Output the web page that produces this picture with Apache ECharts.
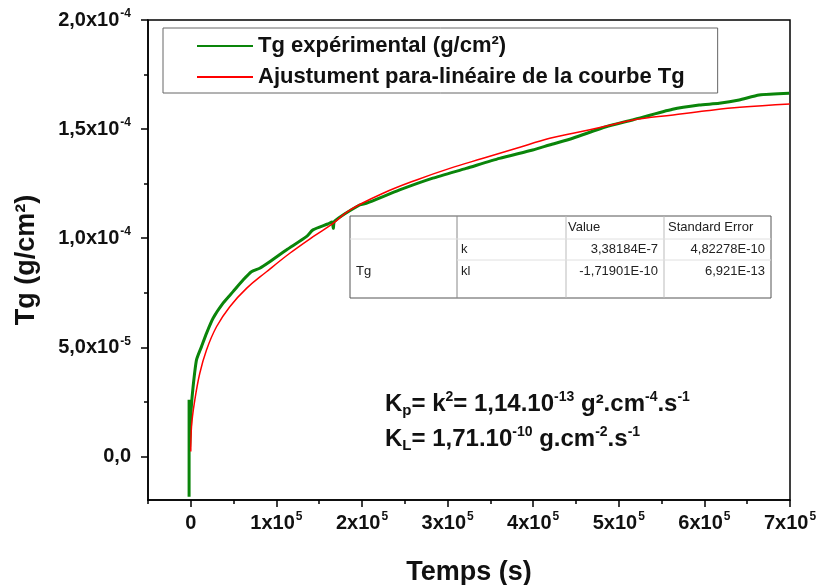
<!DOCTYPE html>
<html>
<head>
<meta charset="utf-8">
<script src="https://cdn.jsdelivr.net/npm/echarts@6/dist/echarts.min.js"></script>
<style>html,body{margin:0;padding:0;background:#fff}#c{width:821px;height:585px}</style>
</head>
<body>
<div id="c"></div>
<script>
// ---- data ----
const expX = [-2000, -2000, -1500, -500, 500, 2680, 6650, 12490, 18320, 26020, 37690, 49360, 61030, 70830, 80510, 92180, 111670, 135000, 142700, 160000, 165000, 166500, 168000, 197200, 205000, 243900, 282700, 321700, 360600, 399400, 418900, 446100, 485100, 516100, 562800, 593900, 617300, 640600, 664000, 699000];
const expY = [-1.85e-5, 2.6e-5, 0.3e-5, 1.2e-5, 2.2e-5, 3.19e-5, 4.42e-5, 5.03e-5, 5.64e-5, 6.33e-5, 7.02e-5, 7.55e-5, 8.08e-5, 8.46e-5, 8.62e-5, 8.92e-5, 9.46e-5, 10.07e-5, 10.38e-5, 10.65e-5, 10.74e-5, 10.45e-5, 10.78e-5, 11.52e-5, 11.60e-5, 12.21e-5, 12.75e-5, 13.20e-5, 13.66e-5, 14.04e-5, 14.27e-5, 14.58e-5, 15.11e-5, 15.42e-5, 15.91e-5, 16.10e-5, 16.18e-5, 16.33e-5, 16.56e-5, 16.64e-5];
const fitX = [0, 820, 4670, 10500, 18340, 30020, 45560, 65070, 88430, 115650, 142870, 166240, 185750, 224650, 263670, 302570, 341470, 380490, 419390, 446610, 485630, 516710, 563440, 602450, 641360, 699770];
const fitY = [0.22e-5, 1.36e-5, 2.58e-5, 3.81e-5, 4.88e-5, 5.94e-5, 6.86e-5, 7.70e-5, 8.46e-5, 9.31e-5, 10.07e-5, 10.68e-5, 11.29e-5, 12.06e-5, 12.67e-5, 13.20e-5, 13.66e-5, 14.12e-5, 14.58e-5, 14.81e-5, 15.14e-5, 15.42e-5, 15.65e-5, 15.84e-5, 16.00e-5, 16.15e-5];
const seriesNames = ['Tg expérimental (g/cm²)', 'Ajustument para-linéaire de la courbe Tg'];

const xTickValues = [0, 1e5, 2e5, 3e5, 4e5, 5e5, 6e5, 7e5];
const xTickLabels = [['0', ''], ['1x10', '5'], ['2x10', '5'], ['3x10', '5'], ['4x10', '5'], ['5x10', '5'], ['6x10', '5'], ['7x10', '5']];
const xMinorTicks = [-5e4, 5e4, 1.5e5, 2.5e5, 3.5e5, 4.5e5, 5.5e5, 6.5e5];
const yTickValues = [0, 5e-5, 1e-4, 1.5e-4, 2e-4];
const yTickLabels = [['0,0', ''], ['5,0x10', '-5'], ['1,0x10', '-4'], ['1,5x10', '-4'], ['2,0x10', '-4']];
const yMinorTicks = [2.5e-5, 7.5e-5, 1.25e-4, 1.75e-4];

const tableRows = [
  ['', '', 'Value', 'Standard Error'],
  ['', 'k', '3,38184E-7', '4,82278E-10'],
  ['Tg', 'kl', '-1,71901E-10', '6,921E-13']
];

// ---- chart ----
const FONT = "'Liberation Sans', Arial, sans-serif";
const pairs = (xs, ys) => xs.map((x, i) => [x, ys[i]]);
function nearestIdx(arr, v) {
  let best = 0, bd = Infinity;
  arr.forEach((a, i) => { const d = Math.abs(a - v); if (d < bd) { bd = d; best = i; } });
  return best;
}
function richLabel(lbl) {
  return lbl[1] ? '{b|' + lbl[0] + '}{s|' + lbl[1] + '}' : '{b|' + lbl[0] + '}';
}
const labelRich = {
  b: { fontFamily: FONT, fontWeight: 'bold', fontSize: 20, color: '#111', lineHeight: 24 },
  s: { fontFamily: FONT, fontWeight: 'bold', fontSize: 12, color: '#111', verticalAlign: 'top', lineHeight: 24, padding: [0, 0, 0, 1] }
};

const chart = echarts.init(document.getElementById('c'), null, { renderer: 'canvas' });

// table graphic
const tblX = [350, 457, 566, 664, 771];
const tblY = [216, 239, 260, 283, 298];
const tbl = [];
tbl.push({ type: 'rect', shape: { x: tblX[0], y: tblY[0], width: tblX[4] - tblX[0], height: tblY[4] - tblY[0] }, style: { fill: '#fff', stroke: '#555', lineWidth: 1 } });
[1, 2, 3].forEach(i => tbl.push({ type: 'line', shape: { x1: tblX[i], y1: tblY[0], x2: tblX[i], y2: tblY[4] }, style: { stroke: i === 1 ? '#888' : '#bbb', lineWidth: 1 } }));
tbl.push({ type: 'line', shape: { x1: tblX[0], y1: tblY[1], x2: tblX[4], y2: tblY[1] }, style: { stroke: '#e0e0e0', lineWidth: 1 } });
tbl.push({ type: 'line', shape: { x1: tblX[1], y1: tblY[2], x2: tblX[4], y2: tblY[2] }, style: { stroke: '#e0e0e0', lineWidth: 1 } });
const cellStyle = { fontFamily: FONT, fontSize: 13, fill: '#222' };
tbl.push({ type: 'text', x: tblX[2] + 2, y: 227, style: Object.assign({ text: tableRows[0][2], verticalAlign: 'middle' }, cellStyle) });
tbl.push({ type: 'text', x: tblX[3] + 4, y: 227, style: Object.assign({ text: tableRows[0][3], verticalAlign: 'middle' }, cellStyle) });
tbl.push({ type: 'text', x: tblX[1] + 4, y: 249, style: Object.assign({ text: tableRows[1][1], verticalAlign: 'middle' }, cellStyle) });
tbl.push({ type: 'text', x: tblX[3] - 6, y: 249, style: Object.assign({ text: tableRows[1][2], verticalAlign: 'middle', align: 'right' }, cellStyle) });
tbl.push({ type: 'text', x: tblX[4] - 6, y: 249, style: Object.assign({ text: tableRows[1][3], verticalAlign: 'middle', align: 'right' }, cellStyle) });
tbl.push({ type: 'text', x: tblX[0] + 6, y: 271, style: Object.assign({ text: tableRows[2][0], verticalAlign: 'middle' }, cellStyle) });
tbl.push({ type: 'text', x: tblX[1] + 4, y: 271, style: Object.assign({ text: tableRows[2][1], verticalAlign: 'middle' }, cellStyle) });
tbl.push({ type: 'text', x: tblX[3] - 6, y: 271, style: Object.assign({ text: tableRows[2][2], verticalAlign: 'middle', align: 'right' }, cellStyle) });
tbl.push({ type: 'text', x: tblX[4] - 6, y: 271, style: Object.assign({ text: tableRows[2][3], verticalAlign: 'middle', align: 'right' }, cellStyle) });

const annRich = {
  b: { fontFamily: FONT, fontWeight: 'bold', fontSize: 24, fill: '#111', lineHeight: 28 },
  sup: { fontFamily: FONT, fontWeight: 'bold', fontSize: 14, fill: '#111', verticalAlign: 'top', lineHeight: 28 },
  sub: { fontFamily: FONT, fontWeight: 'bold', fontSize: 15, fill: '#111', verticalAlign: 'bottom', lineHeight: 28 }
};

const LEG_ICON = 'path://M0,0 L56,0 L56,2 L0,2 Z';

const option = {
  animation: false,
  backgroundColor: '#fff',
  grid: { left: 148, right: 31, top: 20, bottom: 85, show: true, borderColor: '#000', borderWidth: 1.5, backgroundColor: 'transparent', outerBoundsMode: 'none', containLabel: false },
  legend: {
    left: 163, top: 28, orient: 'vertical',
    borderColor: '#666', borderWidth: 1, backgroundColor: '#fff',
    padding: [7, 33, 5, 34], itemGap: 9, itemWidth: 56, itemHeight: 22,
    icon: LEG_ICON,
    textStyle: { fontFamily: FONT, fontWeight: 'bold', fontSize: 22, color: '#111' },
    data: seriesNames
  },
  xAxis: [{
    type: 'value', min: -5e4, max: 7e5,
    name: 'Temps (s)', nameLocation: 'middle', nameGap: 59,
    nameTextStyle: { fontFamily: FONT, fontWeight: 'bold', fontSize: 27, color: '#111' },
    axisLine: { show: true, onZero: false, lineStyle: { color: '#000', width: 1.5 } },
    axisTick: { show: true, length: 7, customValues: xTickValues, lineStyle: { color: '#000', width: 1.5 } },
    splitLine: { show: false },
    axisLabel: {
      margin: 11, customValues: xTickValues,
      formatter: v => richLabel(xTickLabels[nearestIdx(xTickValues, v)]),
      rich: labelRich
    }
  }, {
    type: 'value', min: -5e4, max: 7e5, gridIndex: 0, position: 'bottom',
    axisLine: { show: false, onZero: false },
    axisTick: { show: true, length: 4, customValues: xMinorTicks, lineStyle: { color: '#000', width: 1.5 } },
    axisLabel: { show: false }, splitLine: { show: false }
  }],
  yAxis: [{
    type: 'value', min: -2e-5, max: 2e-4,
    name: 'Tg (g/cm²)', nameLocation: 'middle', nameGap: 108,
    nameTextStyle: { fontFamily: FONT, fontWeight: 'bold', fontSize: 27, color: '#111' },
    axisLine: { show: true, onZero: false, lineStyle: { color: '#000', width: 1.5 } },
    axisTick: { show: true, length: 7, customValues: yTickValues, lineStyle: { color: '#000', width: 1.5 } },
    splitLine: { show: false },
    axisLabel: {
      margin: 17, customValues: yTickValues,
      formatter: v => richLabel(yTickLabels[nearestIdx(yTickValues, v)]),
      rich: labelRich
    }
  }, {
    type: 'value', min: -2e-5, max: 2e-4, gridIndex: 0, position: 'left',
    axisLine: { show: false, onZero: false },
    axisTick: { show: true, length: 4, customValues: yMinorTicks, lineStyle: { color: '#000', width: 1.5 } },
    axisLabel: { show: false }, splitLine: { show: false }
  }],
  series: [{
    name: seriesNames[0], type: 'line', symbol: 'none', smooth: 0.2,
    lineStyle: { color: '#0a850a', width: 3 }, itemStyle: { color: '#0a850a' },
    data: pairs(expX, expY), z: 2
  }, {
    name: seriesNames[1], type: 'line', symbol: 'none', smooth: 0.4,
    lineStyle: { color: '#ff0000', width: 1.5 }, itemStyle: { color: '#ff0000' },
    data: pairs(fitX, fitY), z: 3
  }],
  graphic: [
    { type: 'group', children: tbl, z: 10 },
    { type: 'text', x: 385, y: 390, z: 10, style: { text: '{b|K}{sub|p}{b|= k}{sup|2}{b|= 1,14.10}{sup|-13}{b| g².cm}{sup|-4}{b|.s}{sup|-1}', rich: annRich } },
    { type: 'text', x: 385, y: 425, z: 10, style: { text: '{b|K}{sub|L}{b|= 1,71.10}{sup|-10}{b| g.cm}{sup|-2}{b|.s}{sup|-1}', rich: annRich } }
  ]
};
chart.setOption(option);
</script>
</body>
</html>
